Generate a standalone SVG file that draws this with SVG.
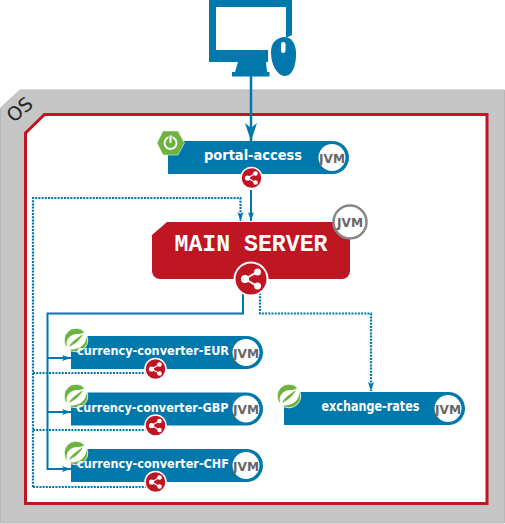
<svg xmlns="http://www.w3.org/2000/svg" width="505" height="524" viewBox="0 0 505 524">
<style>
.bar{fill:#0078ac}
.name{font:bold 13.5px "DejaVu Sans",sans-serif;fill:#fff;text-anchor:middle}
.cc{font-size:12.300px}
.jvm{font:bold 13px "DejaVu Sans",sans-serif;fill:#666;text-anchor:middle}
.solid{fill:none;stroke:#0078ac;stroke-width:2}
.dot{fill:none;stroke:#0078ac;stroke-width:2.2;stroke-dasharray:2 1.2}
</style>
<defs>
<marker id="a" markerUnits="userSpaceOnUse" markerWidth="10" markerHeight="8" refX="9" refY="3.500" orient="auto"><path d="M0 0.500L9 3.500L0 6.500L2 3.500Z" fill="#0078ac"/></marker>
<marker id="big" markerUnits="userSpaceOnUse" markerWidth="20" markerHeight="14" refX="18" refY="6.500" orient="auto"><path d="M0 0.500L18 6.500L0 12.500L5 6.500Z" fill="#0078ac"/></marker>
<g id="share"><circle r="10.5" fill="#be1622" stroke="#fff" stroke-width="1.5"/><path d="M4-4.500L-4 0L4 4.500" fill="none" stroke="#fff" stroke-width="1.300"/><circle cx="-4" r="2.600" fill="#fff"/><circle cx="4" cy="-4.500" r="2.300" fill="#fff"/><circle cx="4" cy="4.500" r="2.300" fill="#fff"/></g>
<g id="leaf"><circle r="11.800" fill="#6db33f" stroke="#fff" stroke-width=".8"/><path d="M-8 9C-12 0-6-6 2-6C6-6 9-8 11-11C12 0 8 7 1 8.500C-3 9.500-6 10-8 9Z" fill="#fff"/><path d="M-7 7C-5 2 0-1 7-6C4 0-1 4-7 7Z" fill="#6db33f"/></g>
</defs>
<g id="os">
<path d="M0.500 108L20 90H504.500V523H0.500Z" fill="#c6c6c6" stroke="#b8b8b8"/>
<path d="M25.500 133L44.500 114.500H487V503.500H25.500Z" fill="#fff" stroke="#be1622" stroke-width="3"/>
<text transform="translate(20 110) rotate(-40)" y="6" font-family="DejaVu Sans,sans-serif" font-size="19" fill="#222" text-anchor="middle">OS</text>
</g>
<g id="computer">
<path fill-rule="evenodd" d="M209 0H292V35L286 38V7H216V50H268V62H209ZM238 62H266L267 72H269.500V76.500H232V72H235Z" fill="#0078ac"/>
<path d="M284 37C291 37 295.500 43 296 52C296.500 66 292 76 285 76C278 76 271 66 271 52C271 43 276 38 284 37Z" fill="#0078ac"/>
<rect x="281" y="42" width="4.500" height="11" rx="2.200" fill="#fff"/>
</g>
<g id="connectors">
<path d="M251 76V141" fill="none" stroke="#0078ac" stroke-width="2.500" marker-end="url(#big)"/>
<path class="solid" d="M251 190V221" marker-end="url(#a)"/>
<path class="dot" d="M33 487V198H240.500V221" marker-end="url(#a)"/>
<path class="dot" d="M33 373H146M33 430H146M33 487H146"/>
<path class="solid" d="M243 290V313.500H47.500V469H71" marker-end="url(#a)"/>
<path class="solid" d="M47.500 358H71" marker-end="url(#a)"/>
<path class="solid" d="M47.500 412H71" marker-end="url(#a)"/>
<path class="dot" d="M260 293V313.500H371V391" marker-end="url(#a)"/>
</g>
<g id="portal-access">
<path class="bar" d="M168 141H332.500A16.500 16.500 0 0 1 332.500 174H168Z"/>
<circle cx="332" cy="157.500" r="13.500" fill="#fff"/>
<text class="name" x="253" y="160" textLength="98" lengthAdjust="spacingAndGlyphs">portal-access</text>
<text class="jvm" x="332" y="162.500" textLength="26" lengthAdjust="spacingAndGlyphs">JVM</text>
<path d="M163 131H178L184.500 143L178 155H163L157 143Z" fill="#6db33f" stroke="#fff" stroke-width=".5"/>
<circle cx="170.500" cy="143" r="6" fill="none" stroke="#fff" stroke-width="1.800"/>
<path d="M170.500 136V143" stroke="#6db33f" stroke-width="4"/><path d="M170.500 135.500V143" stroke="#fff" stroke-width="2"/>
<use href="#share" x="251.500" y="178"/>
</g>
<g id="main-server">
<path d="M167 222H350V271A8 8 0 0 1 342 279H160A8 8 0 0 1 152 271V235Z" fill="#be1622"/>
<text x="251" y="251" font-family="Liberation Mono,monospace" font-weight="bold" font-size="23" fill="#fff" text-anchor="middle" textLength="153" lengthAdjust="spacingAndGlyphs">MAIN SERVER</text>
<circle cx="350" cy="222" r="16.500" fill="#fff" stroke="#888" stroke-width="2.500"/>
<text class="jvm" x="350" y="227" textLength="26" lengthAdjust="spacingAndGlyphs">JVM</text>
<circle cx="251" cy="279" r="16.500" fill="#be1622" stroke="#fff" stroke-width="2"/>
<path d="M257 272L245 279L257 286" fill="none" stroke="#fff" stroke-width="1.800"/><circle cx="245" cy="279" r="4" fill="#fff"/><circle cx="257.500" cy="272" r="3.500" fill="#fff"/><circle cx="257.500" cy="286" r="3.500" fill="#fff"/>
</g>
<g id="currency-converter-eur">
<path class="bar" d="M71 336H246.500A16.500 16.500 0 0 1 246.500 369H71Z"/>
<circle cx="246" cy="352.500" r="13.500" fill="#fff"/>
<use href="#leaf" x="76" y="340"/>
<text class="name cc" x="153" y="355" textLength="152" lengthAdjust="spacingAndGlyphs">currency-converter-EUR</text>
<text class="jvm" x="246" y="357.500" textLength="26" lengthAdjust="spacingAndGlyphs">JVM</text>
<use href="#share" x="155.500" y="369"/>
</g>
<g id="currency-converter-gbp">
<path class="bar" d="M71 392.500H246.500A16.500 16.500 0 0 1 246.500 425.500H71Z"/>
<circle cx="246" cy="409" r="13.500" fill="#fff"/>
<use href="#leaf" x="76" y="396"/>
<text class="name cc" x="152.500" y="412" textLength="152" lengthAdjust="spacingAndGlyphs">currency-converter-GBP</text>
<text class="jvm" x="246" y="414" textLength="26" lengthAdjust="spacingAndGlyphs">JVM</text>
<use href="#share" x="155.500" y="425.500"/>
</g>
<g id="currency-converter-chf">
<path class="bar" d="M71 449H246.500A16.500 16.500 0 0 1 246.500 482H71Z"/>
<circle cx="246" cy="465.500" r="13.500" fill="#fff"/>
<use href="#leaf" x="76" y="453"/>
<text class="name cc" x="153" y="468" textLength="152" lengthAdjust="spacingAndGlyphs">currency-converter-CHF</text>
<text class="jvm" x="246" y="470.500" textLength="26" lengthAdjust="spacingAndGlyphs">JVM</text>
<use href="#share" x="155.500" y="482"/>
</g>
<g id="exchange-rates">
<path class="bar" d="M284 392H448.500A16.500 16.500 0 0 1 448.500 425H284Z"/>
<circle cx="448" cy="408.500" r="13.500" fill="#fff"/>
<use href="#leaf" x="289" y="396"/>
<text class="name" x="370.500" y="411" textLength="98" lengthAdjust="spacingAndGlyphs">exchange-rates</text>
<text class="jvm" x="448" y="413.500" textLength="26" lengthAdjust="spacingAndGlyphs">JVM</text>
</g>
</svg>
